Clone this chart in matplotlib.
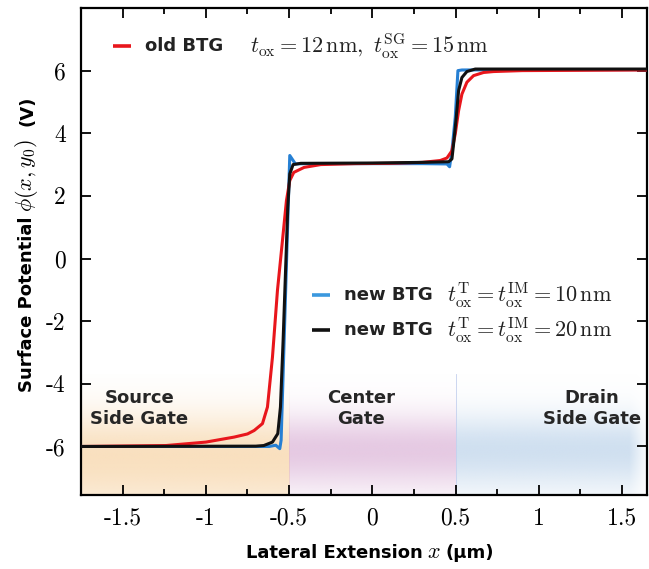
import matplotlib.pyplot as plt
import numpy as np

plt.rcParams["mathtext.fontset"] = "cm"
plt.rcParams["axes.unicode_minus"] = False

# surface potential phi(x, y0) along the channel
# old BTG, t_ox = 12 nm, t_ox^SG = 15 nm
x_old = [-1.75, -1.24, -1.0, -0.83, -0.75, -0.71, -0.66, -0.63, -0.60, -0.57,
         -0.54, -0.516, -0.496, -0.472, -0.41, -0.31, -0.1, 0.1, 0.3, 0.408,
         0.448, 0.478, 0.498, 0.518, 0.538, 0.568, 0.608, 0.668, 0.728, 0.9, 1.65]
phi_old = [-6.0, -5.97, -5.86, -5.70, -5.60, -5.49, -5.27, -4.74, -3.15, -1.02,
           0.57, 1.85, 2.49, 2.75, 2.91, 3.0, 3.03, 3.04, 3.07, 3.13,
           3.21, 3.44, 3.98, 4.72, 5.25, 5.63, 5.84, 5.94, 5.97, 6.0, 6.02]

# new BTG, t_ox^T = t_ox^IM = 10 nm
x_new10 = [-1.75, -0.62, -0.58, -0.556, -0.548, -0.496, -0.462, -0.40, 0.0, 0.3,
           0.448, 0.464, 0.478, 0.498, 0.514, 0.538, 1.0, 1.65]
phi_new10 = [-6.0, -6.0, -5.96, -6.07, -5.8, 3.29, 3.02, 3.03, 3.03, 3.03,
             3.02, 2.93, 3.44, 4.51, 6.0, 6.02, 6.03, 6.03]

# new BTG, t_ox^T = t_ox^IM = 20 nm
x_new20 = [-1.75, -0.7, -0.652, -0.60, -0.568, -0.552, -0.536, -0.522, -0.508,
           -0.496, -0.476, -0.43, 0.0, 0.288, 0.458, 0.478, 0.488, 0.504, 0.518,
           0.538, 0.568, 0.618, 1.0, 1.65]
phi_new20 = [-6.0, -5.99, -5.97, -5.86, -5.59, -4.74, -2.62, -0.49, 1.64,
             2.70, 3.0, 3.04, 3.05, 3.07, 3.09, 3.18, 3.66, 4.51, 5.36,
             5.78, 5.97, 6.05, 6.05, 6.05]

# gate regions
gate_names = ["Source\nSide Gate", "Center\nGate", "Drain\nSide Gate"]
gate_edges = [(-1.75, -0.5), (-0.5, 0.5), (0.5, 1.65)]
gate_colors = ["#f7d3a4", "#dbb3d7", "#bcd3ea"]
gate_label_x = [-1.40, -0.07, 1.32]
gate_label_y = -4.78

x_ticks = [-1.5, -1, -0.5, 0, 0.5, 1, 1.5]
x_ticklabels = ["-1.5", "-1", "-0.5", "0", "0.5", "1", "1.5"]
y_ticks = [-6, -4, -2, 0, 2, 4, 6]
y_ticklabels = ["-6", "-4", "-2", "0", "2", "4", "6"]

# axis titles as (text, is_math, gap before) pieces
xlabel_parts = [("Lateral Extension", False, 0), (r"$x$", True, 5), ("(μm)", False, 5)]
ylabel_parts = [("Surface Potential", False, 0), (r"$\phi(x,y_0)$", True, 5),
                ("(V)", False, 12)]

XLIM = (-1.75, 1.65)
YLIM = (-7.55, 8.0)

fig = plt.figure(figsize=(6.49, 5.69), dpi=100)
ax = fig.add_axes([0.1248, 0.130, 0.8722, 0.856])

# soft shaded bands for the three gates
shade_top = -3.7
yy = np.linspace(YLIM[0], shade_top, 200)
for i, ((x0, x1), col) in enumerate(zip(gate_edges, gate_colors)):
    xx = np.linspace(x0, x1, 200)
    yc = -6.3 if i == 0 else -6.1
    s_up = 1.35 if i == 0 else 1.1
    s_dn = 2.0 if i == 0 else 1.3
    prof = np.where(yy > yc, np.exp(-((yy - yc) / s_up) ** 2),
                    np.exp(-((yy - yc) / s_dn) ** 2))
    edge = np.ones_like(xx)
    if x1 > 1.0:
        edge = np.clip((1.66 - xx) / 0.12, 0, 1)
    alpha = prof[:, None] * edge[None, :] * 0.7
    rgba = np.zeros((len(yy), len(xx), 4))
    rgba[..., :3] = plt.matplotlib.colors.to_rgb(col)
    rgba[..., 3] = alpha
    ax.imshow(rgba, extent=[x0, x1, YLIM[0], shade_top], origin="lower",
              aspect="auto", interpolation="bilinear", zorder=0)
ax.axvline(0.5, ymin=0, ymax=(shade_top - YLIM[0]) / (YLIM[1] - YLIM[0]),
           color="#c4d0ee", lw=0.6, zorder=0.5)

for name, gx in zip(gate_names, gate_label_x):
    ax.text(gx, gate_label_y, name, ha="center", va="center", fontsize=13,
            fontweight="bold", color="#262626", linespacing=1.2, zorder=1)

ax.plot(x_new10, phi_new10, color="#2680d4", lw=2.2, zorder=3)
ax.plot(x_old, phi_old, color="#e8161c", lw=2.2, zorder=4)
ax.plot(x_new20, phi_new20, color="#111111", lw=2.2, zorder=5)

ax.set_xlim(*XLIM)
ax.set_ylim(*YLIM)
ax.set_xticks(x_ticks)
ax.set_xticklabels(x_ticklabels, family="cmr10", fontsize=17)
ax.set_yticks(y_ticks)
ax.set_yticklabels(y_ticklabels, family="cmr10", fontsize=17)
ax.set_xticks(np.arange(-1.75, 1.66, 0.25), minor=True)
ax.tick_params(which="both", direction="in", top=True, right=True, width=1.3)
ax.tick_params(which="major", length=7)
ax.tick_params(which="minor", length=4)
ax.tick_params(axis="x", pad=9)
ax.tick_params(axis="y", pad=11)
for sp in ax.spines.values():
    sp.set_linewidth(1.6)


def chained_label(parts, center_px, base_px, vertical):
    """Lay out bold sans words and serif math pieces one after another."""
    renderer = fig.canvas.get_renderer()
    W, H = fig.bbox.width, fig.bbox.height
    texts, sizes = [], []
    for s, is_math, _ in parts:
        kw = dict(fontsize=16) if is_math else dict(fontsize=13, fontweight="bold")
        t = fig.text(0, 0, s, rotation=90 if vertical else 0,
                     rotation_mode="anchor", ha="left", va="baseline", **kw)
        bb = t.get_window_extent(renderer)
        texts.append(t)
        sizes.append(bb.height if vertical else bb.width)
    gaps = [g for _, _, g in parts]
    total = sum(sizes) + sum(gaps)
    if vertical:
        # stack from the bottom upwards
        pos = center_px + total / 2
        for t, sz, g in zip(texts, sizes, gaps):
            pos -= g
            t.set_position((base_px / W, 1 - pos / H))
            pos -= sz
    else:
        pos = center_px - total / 2
        for t, sz, g in zip(texts, sizes, gaps):
            pos += g
            t.set_position((pos / W, 1 - base_px / H))
            pos += sz


chained_label(xlabel_parts, 370, 558, vertical=False)
chained_label(ylabel_parts, 244, 32, vertical=True)

# legend entries
legend_rows = [
    ("#e8161c", "old BTG", r"$t_{\rm ox} = 12\,{\rm nm},\ t_{\rm ox}^{\rm SG} = 15\,{\rm nm}$",
     0.0565, 0.922, 0.2986),
    ("#3b98de", "new BTG", r"$t_{\rm ox}^{\rm T} = t_{\rm ox}^{\rm IM} = 10\,{\rm nm}$",
     0.408, 0.411, 0.647),
    ("#111111", "new BTG", r"$t_{\rm ox}^{\rm T} = t_{\rm ox}^{\rm IM} = 20\,{\rm nm}$",
     0.408, 0.339, 0.647),
]
for col, name, eq, hx, hy, ex in legend_rows:
    ax.plot([hx, hx + 0.032], [hy, hy], color=col, lw=2.6,
            transform=ax.transAxes, solid_capstyle="butt", zorder=6)
    ax.text(hx + 0.056, hy, name, transform=ax.transAxes, fontsize=13,
            fontweight="bold", color="#222222", va="center", ha="left")
    ax.text(ex, hy, eq, transform=ax.transAxes, fontsize=16, color="#222222",
            va="center", ha="left")

fig.savefig("out.png", dpi=100)
